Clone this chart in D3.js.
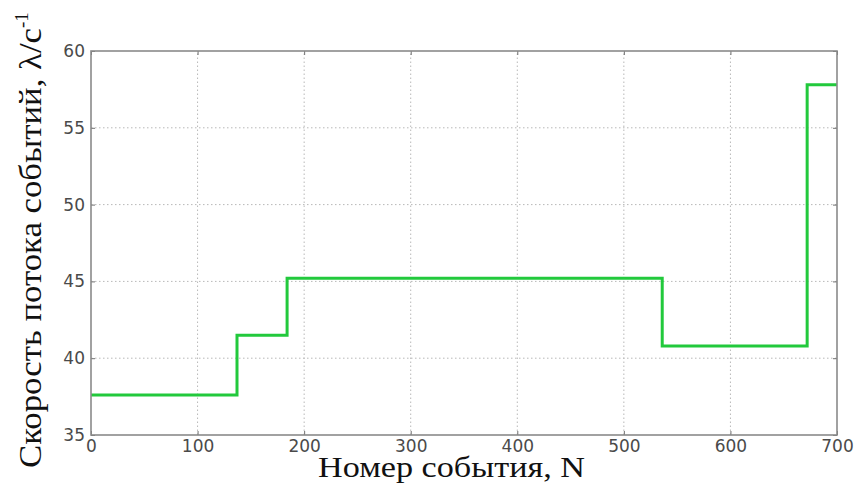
<!DOCTYPE html>
<html>
<head>
<meta charset="utf-8">
<script src="https://cdn.jsdelivr.net/npm/d3@7"></script>
<style>
  html, body { margin: 0; padding: 0; background: #fff; }
  svg { display: block; }
</style>
</head>
<body>
<svg id="chart" width="857" height="483"></svg>
<script>
// Event-flow rate: piecewise-constant levels over event number
const stepStarts = [0, 137, 184, 536, 672];        // event number where each level begins
const stepRates  = [37.6, 41.5, 45.2, 40.8, 57.8]; // rate on each level, λ/с⁻¹
const xEnd = 700;
const xTicks = [0, 100, 200, 300, 400, 500, 600, 700];
const yTicks = [35, 40, 45, 50, 55, 60];

const W = 857, H = 483;
const m = { left: 91, right: 20, top: 51, bottom: 48 };
const svg = d3.select("#chart");

const x = d3.scaleLinear().domain([0, 700]).range([m.left, W - m.right]);
const y = d3.scaleLinear().domain([35, 60]).range([H - m.bottom, m.top]);

// grid
const grid = svg.append("g");
grid.selectAll("line.vg").data(xTicks.slice(1, -1)).join("line")
  .attr("x1", d => x(d)).attr("x2", d => x(d))
  .attr("y1", y(35)).attr("y2", y(60))
  .attr("stroke", "#b8b8b8").attr("stroke-width", 1).attr("stroke-dasharray", "1.5,2.5");
grid.selectAll("line.hg").data(yTicks.slice(1, -1)).join("line")
  .attr("x1", x(0)).attr("x2", x(700))
  .attr("y1", d => y(d)).attr("y2", d => y(d))
  .attr("stroke", "#b8b8b8").attr("stroke-width", 1).attr("stroke-dasharray", "1.5,2.5");

// step line
const pts = stepStarts.map((s, i) => [s, stepRates[i]]);
pts.push([xEnd, stepRates[stepRates.length - 1]]);
const line = d3.line().x(d => x(d[0])).y(d => y(d[1])).curve(d3.curveStepAfter);
svg.append("path").datum(pts)
  .attr("d", line)
  .attr("fill", "none")
  .attr("stroke", "#22c93c")
  .attr("stroke-width", 3)
  .attr("stroke-linejoin", "miter");

// axes (ticks inward, on all four sides)
const tickFont = (g) => g.selectAll("text")
  .attr("font-family", "DejaVu Sans, sans-serif")
  .attr("font-size", 17)
  .attr("fill", "#4a4a4a");
const styleAxis = (g) => {
  g.select(".domain").remove();
  g.selectAll(".tick line").attr("stroke", "#707070").attr("stroke-width", 1);
};

svg.append("g").attr("transform", `translate(0,${y(35)})`)
  .call(d3.axisBottom(x).tickValues(xTicks).tickFormat(d3.format("d")).tickSizeInner(-4).tickSizeOuter(0).tickPadding(5))
  .call(styleAxis).call(tickFont);
svg.append("g").attr("transform", `translate(${x(0)},0)`)
  .call(d3.axisLeft(y).tickValues(yTicks).tickFormat(d3.format("d")).tickSizeInner(-4).tickSizeOuter(0).tickPadding(6))
  .call(styleAxis).call(tickFont);
svg.append("g").attr("transform", `translate(0,${y(60)})`)
  .call(d3.axisTop(x).tickValues(xTicks).tickFormat("").tickSizeInner(-4).tickSizeOuter(0))
  .call(styleAxis);
svg.append("g").attr("transform", `translate(${x(700)},0)`)
  .call(d3.axisRight(y).tickValues(yTicks).tickFormat("").tickSizeInner(-4).tickSizeOuter(0))
  .call(styleAxis);

// frame
svg.append("rect")
  .attr("x", x(0)).attr("y", y(60))
  .attr("width", x(700) - x(0)).attr("height", y(35) - y(60))
  .attr("fill", "none").attr("stroke", "#8a8a8a").attr("stroke-width", 1.6);

// axis titles
svg.append("text")
  .attr("x", 318).attr("y", 477)
  .attr("text-anchor", "start")
  .attr("font-family", "Liberation Serif, Times New Roman, serif")
  .attr("font-size", 29).attr("fill", "#111")
  .attr("textLength", 267).attr("lengthAdjust", "spacingAndGlyphs")
  .text("Номер события, N");

const yt = svg.append("text")
  .attr("transform", "translate(41,468) rotate(-90)")
  .attr("text-anchor", "start")
  .attr("font-family", "Liberation Serif, Times New Roman, serif")
  .attr("font-size", 32).attr("fill", "#111");
yt.append("tspan")
  .attr("textLength", 440).attr("lengthAdjust", "spacingAndGlyphs")
  .text("Скорость потока событий, λ/с");
yt.append("tspan").attr("dy", -13).attr("font-size", 19).text("-1");
</script>
</body>
</html>
